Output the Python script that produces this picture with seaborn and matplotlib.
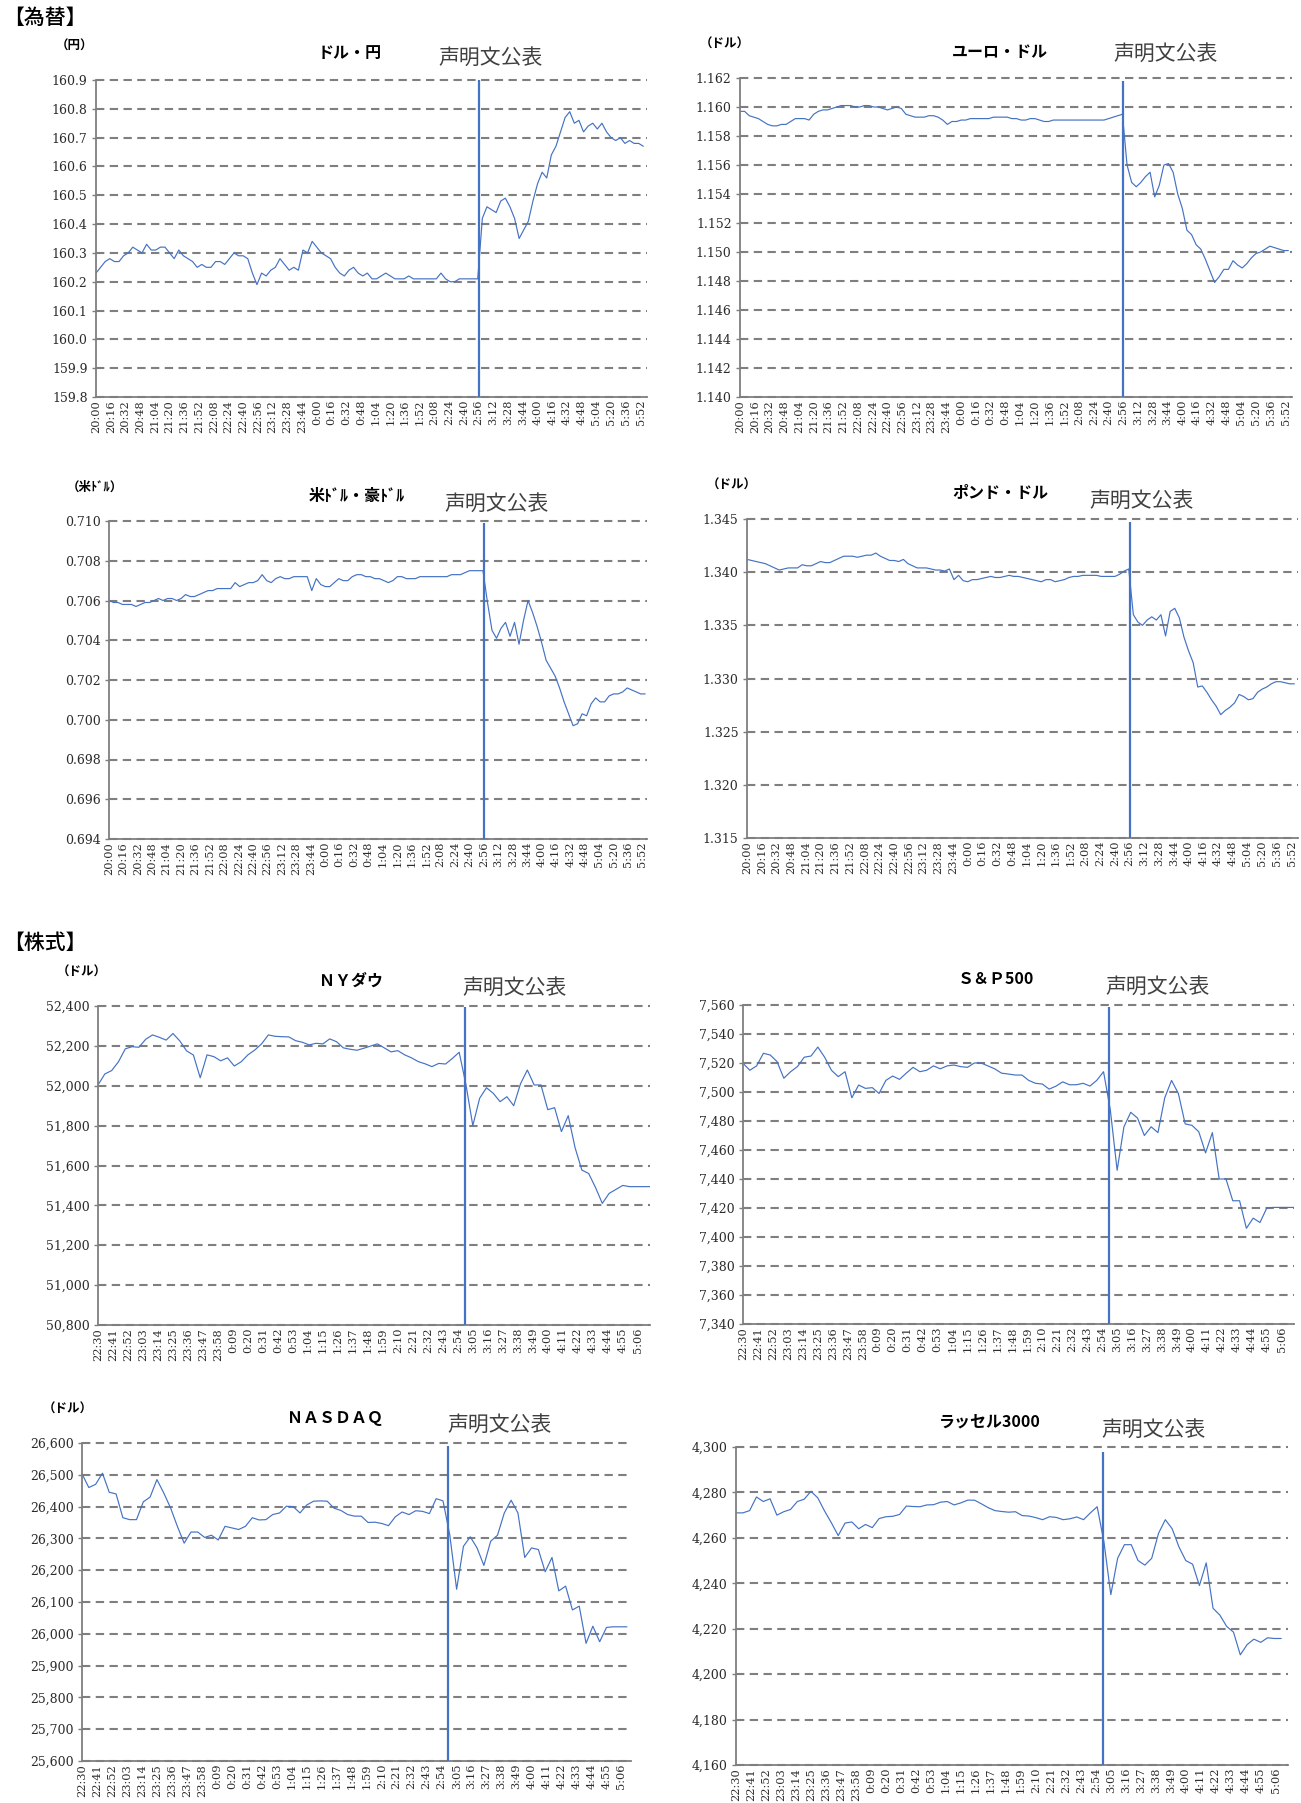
import numpy as np
import pandas as pd
import matplotlib
matplotlib.use("Agg")
import matplotlib.pyplot as plt
import seaborn as sns

sns.set_style("white")
plt.rcParams['font.family'] = ['Noto Sans CJK JP', 'DejaVu Sans']

# ---------------- data ----------------
FX_START = "20:00"
ST_START = "22:30"
STEP_MIN = 5          # sampling interval of the series (minutes)

fx_tick_labels = ["20:00", "20:16", "20:32", "20:48", "21:04", "21:20", "21:36", "21:52",
                  "22:08", "22:24", "22:40", "22:56", "23:12", "23:28", "23:44", "0:00",
                  "0:16", "0:32", "0:48", "1:04", "1:20", "1:36", "1:52", "2:08", "2:24",
                  "2:40", "2:56", "3:12", "3:28", "3:44", "4:00", "4:16", "4:32", "4:48",
                  "5:04", "5:20", "5:36", "5:52"]
st_tick_labels = ["22:30", "22:41", "22:52", "23:03", "23:14", "23:25", "23:36", "23:47",
                  "23:58", "0:09", "0:20", "0:31", "0:42", "0:53", "1:04", "1:15", "1:26",
                  "1:37", "1:48", "1:59", "2:10", "2:21", "2:32", "2:43", "2:54", "3:05",
                  "3:16", "3:27", "3:38", "3:49", "4:00", "4:11", "4:22", "4:33", "4:44",
                  "4:55", "5:06"]

fx_announce = "2:56"
st_announce = "2:59"

usdjpy = [160.23, 160.25, 160.27, 160.28, 160.27, 160.27, 160.29, 160.30, 160.32, 160.31,
          160.30, 160.33, 160.31, 160.31, 160.32, 160.32, 160.30, 160.28, 160.31, 160.29,
          160.28, 160.27, 160.25, 160.26, 160.25, 160.25, 160.27, 160.27, 160.26, 160.28,
          160.30, 160.29, 160.29, 160.28, 160.23, 160.19, 160.23, 160.22, 160.24, 160.25,
          160.28, 160.26, 160.24, 160.25, 160.24, 160.31, 160.30, 160.34, 160.32, 160.30,
          160.29, 160.28, 160.25, 160.23, 160.22, 160.24, 160.25, 160.23, 160.22, 160.23,
          160.21, 160.21, 160.22, 160.23, 160.22, 160.21, 160.21, 160.21, 160.22, 160.21,
          160.21, 160.21, 160.21, 160.21, 160.21, 160.23, 160.21, 160.20, 160.20, 160.21,
          160.21, 160.21, 160.21, 160.21, 160.42, 160.46, 160.45, 160.44, 160.48, 160.49,
          160.46, 160.42, 160.35, 160.38, 160.41, 160.48, 160.54, 160.58, 160.56, 160.64,
          160.67, 160.72, 160.77, 160.79, 160.75, 160.76, 160.72, 160.74, 160.75, 160.73,
          160.75, 160.72, 160.70, 160.69, 160.70, 160.68, 160.69, 160.68, 160.68, 160.67]

eurusd = [1.1597, 1.1597, 1.1594, 1.1593, 1.1592, 1.1590, 1.1588, 1.1587, 1.1587, 1.1588,
          1.1588, 1.1590, 1.1592, 1.1592, 1.1592, 1.1591, 1.1595, 1.1597, 1.1598, 1.1598,
          1.1599, 1.1600, 1.1601, 1.1601, 1.1601, 1.1600, 1.1600, 1.1601, 1.1601, 1.1600,
          1.1600, 1.1599, 1.1598, 1.1599, 1.1600, 1.1599, 1.1595, 1.1594, 1.1593, 1.1593,
          1.1593, 1.1594, 1.1594, 1.1593, 1.1591, 1.1588, 1.1590, 1.1590, 1.1591, 1.1591,
          1.1592, 1.1592, 1.1592, 1.1592, 1.1592, 1.1593, 1.1593, 1.1593, 1.1593, 1.1592,
          1.1592, 1.1591, 1.1591, 1.1592, 1.1592, 1.1591, 1.1590, 1.1590, 1.1591, 1.1591,
          1.1591, 1.1591, 1.1591, 1.1591, 1.1591, 1.1591, 1.1591, 1.1591, 1.1591, 1.1591,
          1.1592, 1.1593, 1.1594, 1.1595, 1.1560, 1.1548, 1.1545, 1.1548, 1.1552, 1.1555,
          1.1538, 1.1546, 1.1560, 1.1561, 1.1555, 1.1540, 1.1530, 1.1515, 1.1512, 1.1505,
          1.1502, 1.1495, 1.1487, 1.1479, 1.1483, 1.1488, 1.1488, 1.1494, 1.1491, 1.1489,
          1.1492, 1.1496, 1.1499, 1.1500, 1.1502, 1.1504, 1.1503, 1.1502, 1.1501, 1.1501]

audusd = [0.7060, 0.7059, 0.7059, 0.7058, 0.7058, 0.7058, 0.7057, 0.7058, 0.7059, 0.7059,
          0.7060, 0.7061, 0.7060, 0.7061, 0.7061, 0.7060, 0.7061, 0.7063, 0.7062, 0.7062,
          0.7063, 0.7064, 0.7065, 0.7065, 0.7066, 0.7066, 0.7066, 0.7066, 0.7069, 0.7067,
          0.7068, 0.7069, 0.7069, 0.7070, 0.7073, 0.7070, 0.7069, 0.7071, 0.7072, 0.7071,
          0.7071, 0.7072, 0.7072, 0.7072, 0.7072, 0.7065, 0.7071, 0.7068, 0.7067, 0.7067,
          0.7069, 0.7071, 0.7070, 0.7070, 0.7072, 0.7073, 0.7073, 0.7072, 0.7072, 0.7071,
          0.7071, 0.7070, 0.7069, 0.7070, 0.7072, 0.7072, 0.7071, 0.7071, 0.7071, 0.7072,
          0.7072, 0.7072, 0.7072, 0.7072, 0.7072, 0.7072, 0.7073, 0.7073, 0.7073, 0.7074,
          0.7075, 0.7075, 0.7075, 0.7075, 0.7059, 0.7045, 0.7041, 0.7046, 0.7049, 0.7042,
          0.7049, 0.7038, 0.7050, 0.7060, 0.7054, 0.7047, 0.7039, 0.7030, 0.7026, 0.7022,
          0.7016, 0.7009, 0.7003, 0.6997, 0.6998, 0.7003, 0.7002, 0.7008, 0.7011, 0.7009,
          0.7009, 0.7012, 0.7013, 0.7013, 0.7014, 0.7016, 0.7015, 0.7014, 0.7013, 0.7013]

gbpusd = [1.3412, 1.3411, 1.3410, 1.3409, 1.3408, 1.3406, 1.3404, 1.3402, 1.3403, 1.3404,
          1.3404, 1.3404, 1.3407, 1.3406, 1.3406, 1.3408, 1.3410, 1.3409, 1.3409, 1.3411,
          1.3413, 1.3415, 1.3415, 1.3415, 1.3414, 1.3415, 1.3416, 1.3416, 1.3418, 1.3415,
          1.3413, 1.3411, 1.3411, 1.3410, 1.3412, 1.3408, 1.3406, 1.3404, 1.3404, 1.3404,
          1.3403, 1.3402, 1.3402, 1.3401, 1.3403, 1.3393, 1.3397, 1.3392, 1.3391, 1.3393,
          1.3393, 1.3394, 1.3395, 1.3396, 1.3395, 1.3395, 1.3396, 1.3397, 1.3396, 1.3396,
          1.3395, 1.3394, 1.3393, 1.3392, 1.3391, 1.3393, 1.3393, 1.3391, 1.3392, 1.3393,
          1.3395, 1.3396, 1.3396, 1.3397, 1.3397, 1.3397, 1.3397, 1.3396, 1.3396, 1.3396,
          1.3396, 1.3398, 1.3401, 1.3403, 1.3360, 1.3353, 1.3350, 1.3355, 1.3358, 1.3355,
          1.3360, 1.3340, 1.3363, 1.3366, 1.3357, 1.3339, 1.3326, 1.3315, 1.3292, 1.3293,
          1.3287, 1.3280, 1.3274, 1.3266, 1.3270, 1.3273, 1.3277, 1.3285, 1.3283, 1.3280,
          1.3281, 1.3287, 1.3290, 1.3292, 1.3295, 1.3297, 1.3297, 1.3296, 1.3295, 1.3295]

nydow = [52004, 52059, 52076, 52120, 52185, 52196, 52193, 52233, 52255, 52243,
         52229, 52262, 52225, 52175, 52154, 52040, 52155, 52146, 52125, 52140,
         52099, 52120, 52155, 52179, 52210, 52255, 52248, 52246, 52245, 52226,
         52218, 52205, 52213, 52210, 52235, 52221, 52190, 52183, 52178, 52188,
         52199, 52210, 52190, 52170, 52176, 52155, 52140, 52121, 52110, 52096,
         52112, 52109, 52137, 52168, 52004, 51800, 51937, 51990, 51962, 51920,
         51945, 51900, 52010, 52079, 52004, 52004, 51880, 51890, 51770, 51850,
         51690, 51577, 51560, 51490, 51410, 51460, 51480, 51500, 51494, 51494,
         51494, 51494]

sp500 = [7519.8, 7515.0, 7518.0, 7526.7, 7525.5, 7521.0, 7509.5, 7514.0, 7517.5, 7524.0,
         7524.8, 7531.0, 7524.0, 7515.0, 7510.6, 7514.0, 7496.0, 7504.8, 7502.5, 7503.0,
         7499.0, 7508.0, 7511.0, 7508.7, 7513.0, 7517.0, 7514.0, 7515.0, 7518.0, 7516.0,
         7518.0, 7518.6, 7517.5, 7517.0, 7520.0, 7520.0, 7518.0, 7516.0, 7513.0, 7512.4,
         7511.7, 7511.7, 7508.0, 7506.0, 7505.5, 7502.0, 7504.0, 7507.0, 7505.0, 7505.0,
         7506.0, 7504.1, 7508.0, 7514.0, 7487.6, 7446.0, 7476.0, 7486.0, 7482.0, 7470.0,
         7476.0, 7472.0, 7496.0, 7508.0, 7499.0, 7478.0, 7477.0, 7472.6, 7458.0, 7472.0,
         7440.0, 7440.0, 7425.0, 7425.0, 7406.0, 7413.0, 7410.0, 7420.0, 7420.4, 7420.4,
         7420.4, 7420.4]

nasdaq = [26503, 26460, 26470, 26505, 26445, 26440, 26365, 26359, 26359, 26415,
          26430, 26485, 26443, 26396, 26338, 26285, 26320, 26320, 26303, 26310,
          26295, 26338, 26333, 26328, 26338, 26365, 26358, 26359, 26375, 26380,
          26401, 26400, 26380, 26405, 26417, 26418, 26417, 26395, 26388, 26375,
          26370, 26370, 26350, 26351, 26347, 26340, 26368, 26383, 26375, 26387,
          26385, 26378, 26425, 26418, 26310, 26140, 26275, 26305, 26270, 26215,
          26291, 26310, 26380, 26420, 26380, 26240, 26270, 26265, 26195, 26240,
          26135, 26150, 26075, 26087, 25970, 26024, 25975, 26020, 26022, 26022,
          26022]

russell3000 = [4271.0, 4271.0, 4272.0, 4278.0, 4276.0, 4277.2, 4270.0, 4271.5, 4272.5, 4276.0,
               4277.0, 4280.5, 4277.6, 4271.8, 4266.6, 4261.0, 4266.5, 4267.0, 4264.0, 4265.9,
               4264.5, 4268.5, 4269.3, 4269.5, 4270.3, 4274.0, 4273.8, 4273.7, 4274.5, 4274.6,
               4275.7, 4276.0, 4274.5, 4275.4, 4276.6, 4276.6, 4275.0, 4273.3, 4272.0, 4271.6,
               4271.3, 4271.5, 4269.8, 4269.6, 4268.9, 4268.0, 4269.3, 4269.0, 4268.0, 4268.4,
               4269.2, 4268.0, 4271.0, 4273.7, 4258.0, 4235.0, 4251.0, 4257.0, 4257.0, 4250.0,
               4248.0, 4251.0, 4262.0, 4268.0, 4264.0, 4256.0, 4250.0, 4248.4, 4239.0, 4249.0,
               4229.0, 4226.0, 4221.0, 4218.5, 4208.5, 4213.0, 4215.4, 4214.0, 4216.0, 4215.7,
               4215.7]

# top end of the "声明文公表" marker line in each panel
marker_tops = [160.9, 1.1618, 0.7099, 1.3447, 52393, 7558.4, 26592, 4297.7]

# ---------------- styling / layout ----------------
W, H = 1301, 1803
BLUE = "#4472C4"
GRID = "#7f7f7f"
TXT = "#2b2b2b"
TICKFONT = ["DejaVu Serif"]

def tmin(t, start):
    h, m = map(int, t.split(":"))
    sh, sm = map(int, start.split(":"))
    return ((h * 60 + m) - (sh * 60 + sm)) % 1440

panels = [
    dict(vals=usdjpy, start=FX_START, ticks=fx_tick_labels, ann=fx_announce,
         ylim=(159.8, 160.9), step=0.1, fmt="{:.1f}", unit="（円）", title="ドル・円",
         rect=(96, 80, 647, 397), xmax=599, unit_xy=(75, 46), title_xy=(350, 53), ann_xy=(491, 58)),
    dict(vals=eurusd, start=FX_START, ticks=fx_tick_labels, ann=fx_announce,
         ylim=(1.140, 1.162), step=0.002, fmt="{:.3f}", unit="（ドル）", title="ユーロ・ドル",
         rect=(740, 78, 1292, 397), xmax=599, unit_xy=(725, 44), title_xy=(1000, 52), ann_xy=(1166, 54)),
    dict(vals=audusd, start=FX_START, ticks=fx_tick_labels, ann=fx_announce,
         ylim=(0.694, 0.710), step=0.002, fmt="{:.3f}", unit="（米ﾄﾞﾙ）", title="米ﾄﾞﾙ・豪ﾄﾞﾙ",
         rect=(109, 521, 647, 839), xmax=597, unit_xy=(95, 487), title_xy=(357, 496), ann_xy=(497, 504)),
    dict(vals=gbpusd, start=FX_START, ticks=fx_tick_labels, ann=fx_announce,
         ylim=(1.315, 1.345), step=0.005, fmt="{:.3f}", unit="（ドル）", title="ポンド・ドル",
         rect=(747, 519, 1298, 838), xmax=599, unit_xy=(732, 485), title_xy=(1000, 493), ann_xy=(1142, 501)),
    dict(vals=nydow, start=ST_START, ticks=st_tick_labels, ann=st_announce,
         ylim=(50800, 52400), step=200, fmt="{:,.0f}", unit="（ドル）", title="ＮＹダウ",
         rect=(98, 1006, 650, 1325), xmax=405, unit_xy=(82, 972), title_xy=(351, 981), ann_xy=(515, 988)),
    dict(vals=sp500, start=ST_START, ticks=st_tick_labels, ann=st_announce,
         ylim=(7340, 7560), step=20, fmt="{:,.0f}", unit=None, title="Ｓ＆Ｐ500",
         rect=(743, 1005, 1294, 1324), xmax=405, unit_xy=None, title_xy=(996, 979), ann_xy=(1158, 987)),
    dict(vals=nasdaq, start=ST_START, ticks=st_tick_labels, ann=st_announce,
         ylim=(25600, 26600), step=100, fmt="{:,.0f}", unit="（ドル）", title="ＮＡＳＤＡＱ",
         rect=(82, 1443, 631, 1761), xmax=403, unit_xy=(68, 1409), title_xy=(335, 1418), ann_xy=(500, 1425)),
    dict(vals=russell3000, start=ST_START, ticks=st_tick_labels, ann=st_announce,
         ylim=(4160, 4300), step=20, fmt="{:,.0f}", unit=None, title="ラッセル3000",
         rect=(736, 1447, 1288, 1765), xmax=405, unit_xy=None, title_xy=(990, 1422), ann_xy=(1154, 1430)),
]

fig = plt.figure(figsize=(W / 100, H / 100), dpi=100)
fig.patch.set_facecolor("white")

def ftxt(x, y, s, **kw):
    fig.text(x / W, 1 - y / H, s, **kw)

ftxt(3, 18, "【為替】", ha="left", va="center", fontsize=15, fontweight="medium", color="black")
ftxt(3, 943, "【株式】", ha="left", va="center", fontsize=15, fontweight="medium", color="black")

for p, vtop in zip(panels, marker_tops):
    l, t, r, b = p["rect"]
    ax = fig.add_axes([l / W, 1 - b / H, (r - l) / W, (b - t) / H])
    x = np.arange(len(p["vals"])) * STEP_MIN
    df = pd.DataFrame({"t": x, "v": p["vals"]})
    sns.lineplot(data=df, x="t", y="v", ax=ax, color=BLUE, linewidth=0.85)

    lo, hi = p["ylim"]
    ax.vlines(tmin(p["ann"], p["start"]), lo, vtop, color=BLUE, linewidth=1.6, zorder=3)

    ax.set_xlim(0, p["xmax"])
    ax.set_ylim(lo, hi)
    yt = np.round(np.arange(lo, hi + p["step"] / 2, p["step"]), 4)
    ax.set_yticks(yt)
    ax.set_yticklabels([p["fmt"].format(v) for v in yt], fontsize=9,
                       family=TICKFONT, color=TXT)
    ax.set_xticks([tmin(s, p["start"]) for s in p["ticks"]])
    ax.set_xticklabels(p["ticks"], rotation=90, fontsize=8.2,
                       family=TICKFONT, color=TXT)
    ax.tick_params(axis="y", length=3, width=1.0, color=GRID, pad=3, left=True)
    ax.tick_params(axis="x", length=0, pad=2)
    ax.set_xlabel("")
    ax.set_ylabel("")

    ax.yaxis.grid(True, color=GRID, linewidth=1.5, linestyle=(0, (4.0, 2.6)))
    ax.xaxis.grid(False)
    for gl in ax.get_ygridlines():
        gl.set_clip_on(False)
    ax.set_axisbelow(True)
    for side in ("top", "right"):
        ax.spines[side].set_visible(False)
    for side in ("left", "bottom"):
        ax.spines[side].set_color(GRID)
        ax.spines[side].set_linewidth(1.3)
    ax.set_facecolor("white")

    if p["unit"]:
        ftxt(*p["unit_xy"], p["unit"], ha="center", va="center", fontsize=9,
             fontweight="bold", color="black")
    ftxt(*p["title_xy"], p["title"], ha="center", va="center", fontsize=11.5,
         fontweight="bold", color="black")
    ftxt(*p["ann_xy"], "声明文公表", ha="center", va="center", fontsize=15,
         color="#404040")

fig.savefig("out.png", dpi=100, facecolor="white")
